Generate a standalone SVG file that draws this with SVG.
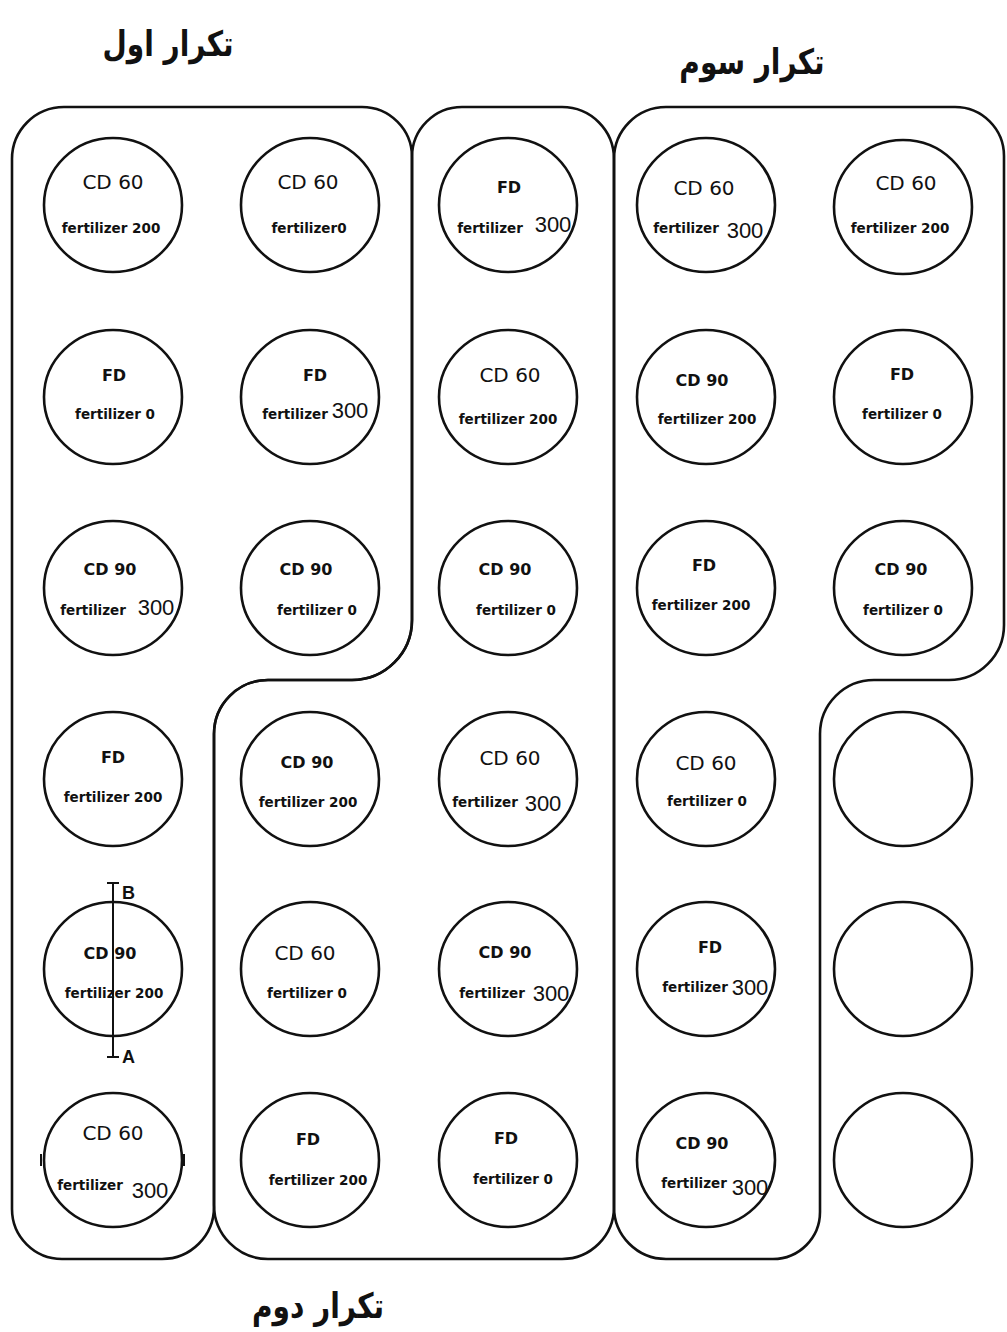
<svg xmlns="http://www.w3.org/2000/svg" width="1007" height="1332" viewBox="0 0 1007 1332">
<style>
.bg{fill:#ffffff}
.reg{fill:none;stroke:#111;stroke-width:2.6;stroke-linejoin:round}
.c{fill:none;stroke:#111;stroke-width:2.6}
text{fill:#111;text-anchor:middle}
.cd{font-family:"DejaVu Sans","Liberation Sans",sans-serif;font-size:20px}
.b{font-family:"DejaVu Sans","Liberation Sans",sans-serif;font-size:16px;font-weight:bold}
.f{font-family:"DejaVu Sans","Liberation Sans",sans-serif;font-size:13.5px;font-weight:bold}
.n{font-family:"Liberation Sans",Arial,sans-serif;font-size:22px}
.ttl{font-family:"DejaVu Sans",sans-serif;font-size:35px;font-weight:bold}
.ab{font-family:"Liberation Sans",Arial,sans-serif;font-size:18px;font-weight:bold;text-anchor:start}
.ln{fill:none;stroke:#111;stroke-width:2}
</style>
<rect class="bg" x="0" y="0" width="1007" height="1332"/>

<g id="titles">
<text class="ttl" transform="translate(168,56) scale(0.8,1)" x="0" y="0">تکرار اول</text>
<text class="ttl" transform="translate(752,74) scale(0.8,1)" x="0" y="0">تکرار سوم</text>
<text class="ttl" transform="translate(318,1318) scale(0.8,1)" x="0" y="0">تکرار دوم</text>
</g>

<g id="rep1">
<path class="reg" d="M12,159 A52,52 0 0 1 64,107 L362,107 A50,50 0 0 1 412,157 L412,620 A60,60 0 0 1 352,680 L268,680 A54,54 0 0 0 214,734 L214,1207 A52,52 0 0 1 162,1259 L62,1259 A50,50 0 0 1 12,1209 Z"/>
</g>
<g id="rep2">
<path class="reg" d="M412,157 A50,50 0 0 1 462,107 L562,107 A52,52 0 0 1 614,159 L614,1207 A52,52 0 0 1 562,1259 L268,1259 A54,54 0 0 1 214,1205 L214,734 A54,54 0 0 1 268,680 L352,680 A60,60 0 0 0 412,620 Z"/>
</g>
<g id="rep3">
<path class="reg" d="M614,159 A52,52 0 0 1 666,107 L955,107 A49,49 0 0 1 1004,156 L1004,625 A55,55 0 0 1 949,680 L874,680 A54,54 0 0 0 820,734 L820,1212 A47,47 0 0 1 773,1259 L666,1259 A52,52 0 0 1 614,1207 Z"/>
</g>

<!-- Row 1 -->
<g id="n11"><ellipse class="c" cx="113" cy="205" rx="69" ry="67"/><text class="cd" x="113" y="189">CD 60</text><text class="f" x="111" y="233">fertilizer 200</text></g>
<g id="n12"><ellipse class="c" cx="310" cy="205" rx="69" ry="67"/><text class="cd" x="308" y="189">CD 60</text><text class="f" x="309" y="233">fertilizer0</text></g>
<g id="n13"><ellipse class="c" cx="508" cy="205" rx="69" ry="67"/><text class="b" x="509" y="193">FD</text><text class="f" x="490" y="233">fertilizer</text><text class="n" x="553" y="232">300</text></g>
<g id="n14"><ellipse class="c" cx="706" cy="205" rx="69" ry="67"/><text class="cd" x="704" y="195">CD 60</text><text class="f" x="686" y="233">fertilizer</text><text class="n" x="745" y="238">300</text></g>
<g id="n15"><ellipse class="c" cx="903" cy="207" rx="69" ry="67"/><text class="cd" x="906" y="190">CD 60</text><text class="f" x="900" y="233">fertilizer 200</text></g>

<!-- Row 2 -->
<g id="n21"><ellipse class="c" cx="113" cy="397" rx="69" ry="67"/><text class="b" x="114" y="381">FD</text><text class="f" x="115" y="419">fertilizer 0</text></g>
<g id="n22"><ellipse class="c" cx="310" cy="397" rx="69" ry="67"/><text class="b" x="315" y="381">FD</text><text class="f" x="295" y="419">fertilizer</text><text class="n" x="350" y="418">300</text></g>
<g id="n23"><ellipse class="c" cx="508" cy="397" rx="69" ry="67"/><text class="cd" x="510" y="382">CD 60</text><text class="f" x="508" y="424">fertilizer 200</text></g>
<g id="n24"><ellipse class="c" cx="706" cy="397" rx="69" ry="67"/><text class="b" x="702" y="386">CD 90</text><text class="f" x="707" y="424">fertilizer 200</text></g>
<g id="n25"><ellipse class="c" cx="903" cy="397" rx="69" ry="67"/><text class="b" x="902" y="380">FD</text><text class="f" x="902" y="419">fertilizer 0</text></g>

<!-- Row 3 -->
<g id="n31"><ellipse class="c" cx="113" cy="588" rx="69" ry="67"/><text class="b" x="110" y="575">CD 90</text><text class="f" x="93" y="615">fertilizer</text><text class="n" x="156" y="615">300</text></g>
<g id="n32"><ellipse class="c" cx="310" cy="588" rx="69" ry="67"/><text class="b" x="306" y="575">CD 90</text><text class="f" x="317" y="615">fertilizer 0</text></g>
<g id="n33"><ellipse class="c" cx="508" cy="588" rx="69" ry="67"/><text class="b" x="505" y="575">CD 90</text><text class="f" x="516" y="615">fertilizer 0</text></g>
<g id="n34"><ellipse class="c" cx="706" cy="588" rx="69" ry="67"/><text class="b" x="704" y="571">FD</text><text class="f" x="701" y="610">fertilizer 200</text></g>
<g id="n35"><ellipse class="c" cx="903" cy="588" rx="69" ry="67"/><text class="b" x="901" y="575">CD 90</text><text class="f" x="903" y="615">fertilizer 0</text></g>

<!-- Row 4 -->
<g id="n41"><ellipse class="c" cx="113" cy="779" rx="69" ry="67"/><text class="b" x="113" y="763">FD</text><text class="f" x="113" y="802">fertilizer 200</text></g>
<g id="n42"><ellipse class="c" cx="310" cy="779" rx="69" ry="67"/><text class="b" x="307" y="768">CD 90</text><text class="f" x="308" y="807">fertilizer 200</text></g>
<g id="n43"><ellipse class="c" cx="508" cy="779" rx="69" ry="67"/><text class="cd" x="510" y="765">CD 60</text><text class="f" x="485" y="807">fertilizer</text><text class="n" x="543" y="811">300</text></g>
<g id="n44"><ellipse class="c" cx="706" cy="779" rx="69" ry="67"/><text class="cd" x="706" y="770">CD 60</text><text class="f" x="707" y="806">fertilizer 0</text></g>
<g id="n45"><ellipse class="c" cx="903" cy="779" rx="69" ry="67"/></g>

<!-- Row 5 -->
<g id="n51"><ellipse class="c" cx="113" cy="969" rx="69" ry="67"/><text class="b" x="110" y="959">CD 90</text><text class="f" x="114" y="998">fertilizer 200</text></g>
<g id="n52"><ellipse class="c" cx="310" cy="969" rx="69" ry="67"/><text class="cd" x="305" y="960">CD 60</text><text class="f" x="307" y="998">fertilizer 0</text></g>
<g id="n53"><ellipse class="c" cx="508" cy="969" rx="69" ry="67"/><text class="b" x="505" y="958">CD 90</text><text class="f" x="492" y="998">fertilizer</text><text class="n" x="551" y="1001">300</text></g>
<g id="n54"><ellipse class="c" cx="706" cy="969" rx="69" ry="67"/><text class="b" x="710" y="953">FD</text><text class="f" x="695" y="992">fertilizer</text><text class="n" x="750" y="995">300</text></g>
<g id="n55"><ellipse class="c" cx="903" cy="969" rx="69" ry="67"/></g>

<!-- Row 6 -->
<g id="n61"><ellipse class="c" cx="113" cy="1160" rx="69" ry="67"/><path class="ln" d="M41,1154 V1166 M184,1154 V1166"/><text class="cd" x="113" y="1140">CD 60</text><text class="f" x="90" y="1190">fertilizer</text><text class="n" x="150" y="1198">300</text></g>
<g id="n62"><ellipse class="c" cx="310" cy="1160" rx="69" ry="67"/><text class="b" x="308" y="1145">FD</text><text class="f" x="318" y="1185">fertilizer 200</text></g>
<g id="n63"><ellipse class="c" cx="508" cy="1160" rx="69" ry="67"/><text class="b" x="506" y="1144">FD</text><text class="f" x="513" y="1184">fertilizer 0</text></g>
<g id="n64"><ellipse class="c" cx="706" cy="1160" rx="69" ry="67"/><text class="b" x="702" y="1149">CD 90</text><text class="f" x="694" y="1188">fertilizer</text><text class="n" x="750" y="1195">300</text></g>
<g id="n65"><ellipse class="c" cx="903" cy="1160" rx="69" ry="67"/></g>

<g id="connectors">
<path class="ln" d="M113,883 V1057 M107,883 H119 M107,1057 H119"/>
<text class="ab" x="122" y="899">B</text>
<text class="ab" x="122" y="1063">A</text>
</g>
</svg>
